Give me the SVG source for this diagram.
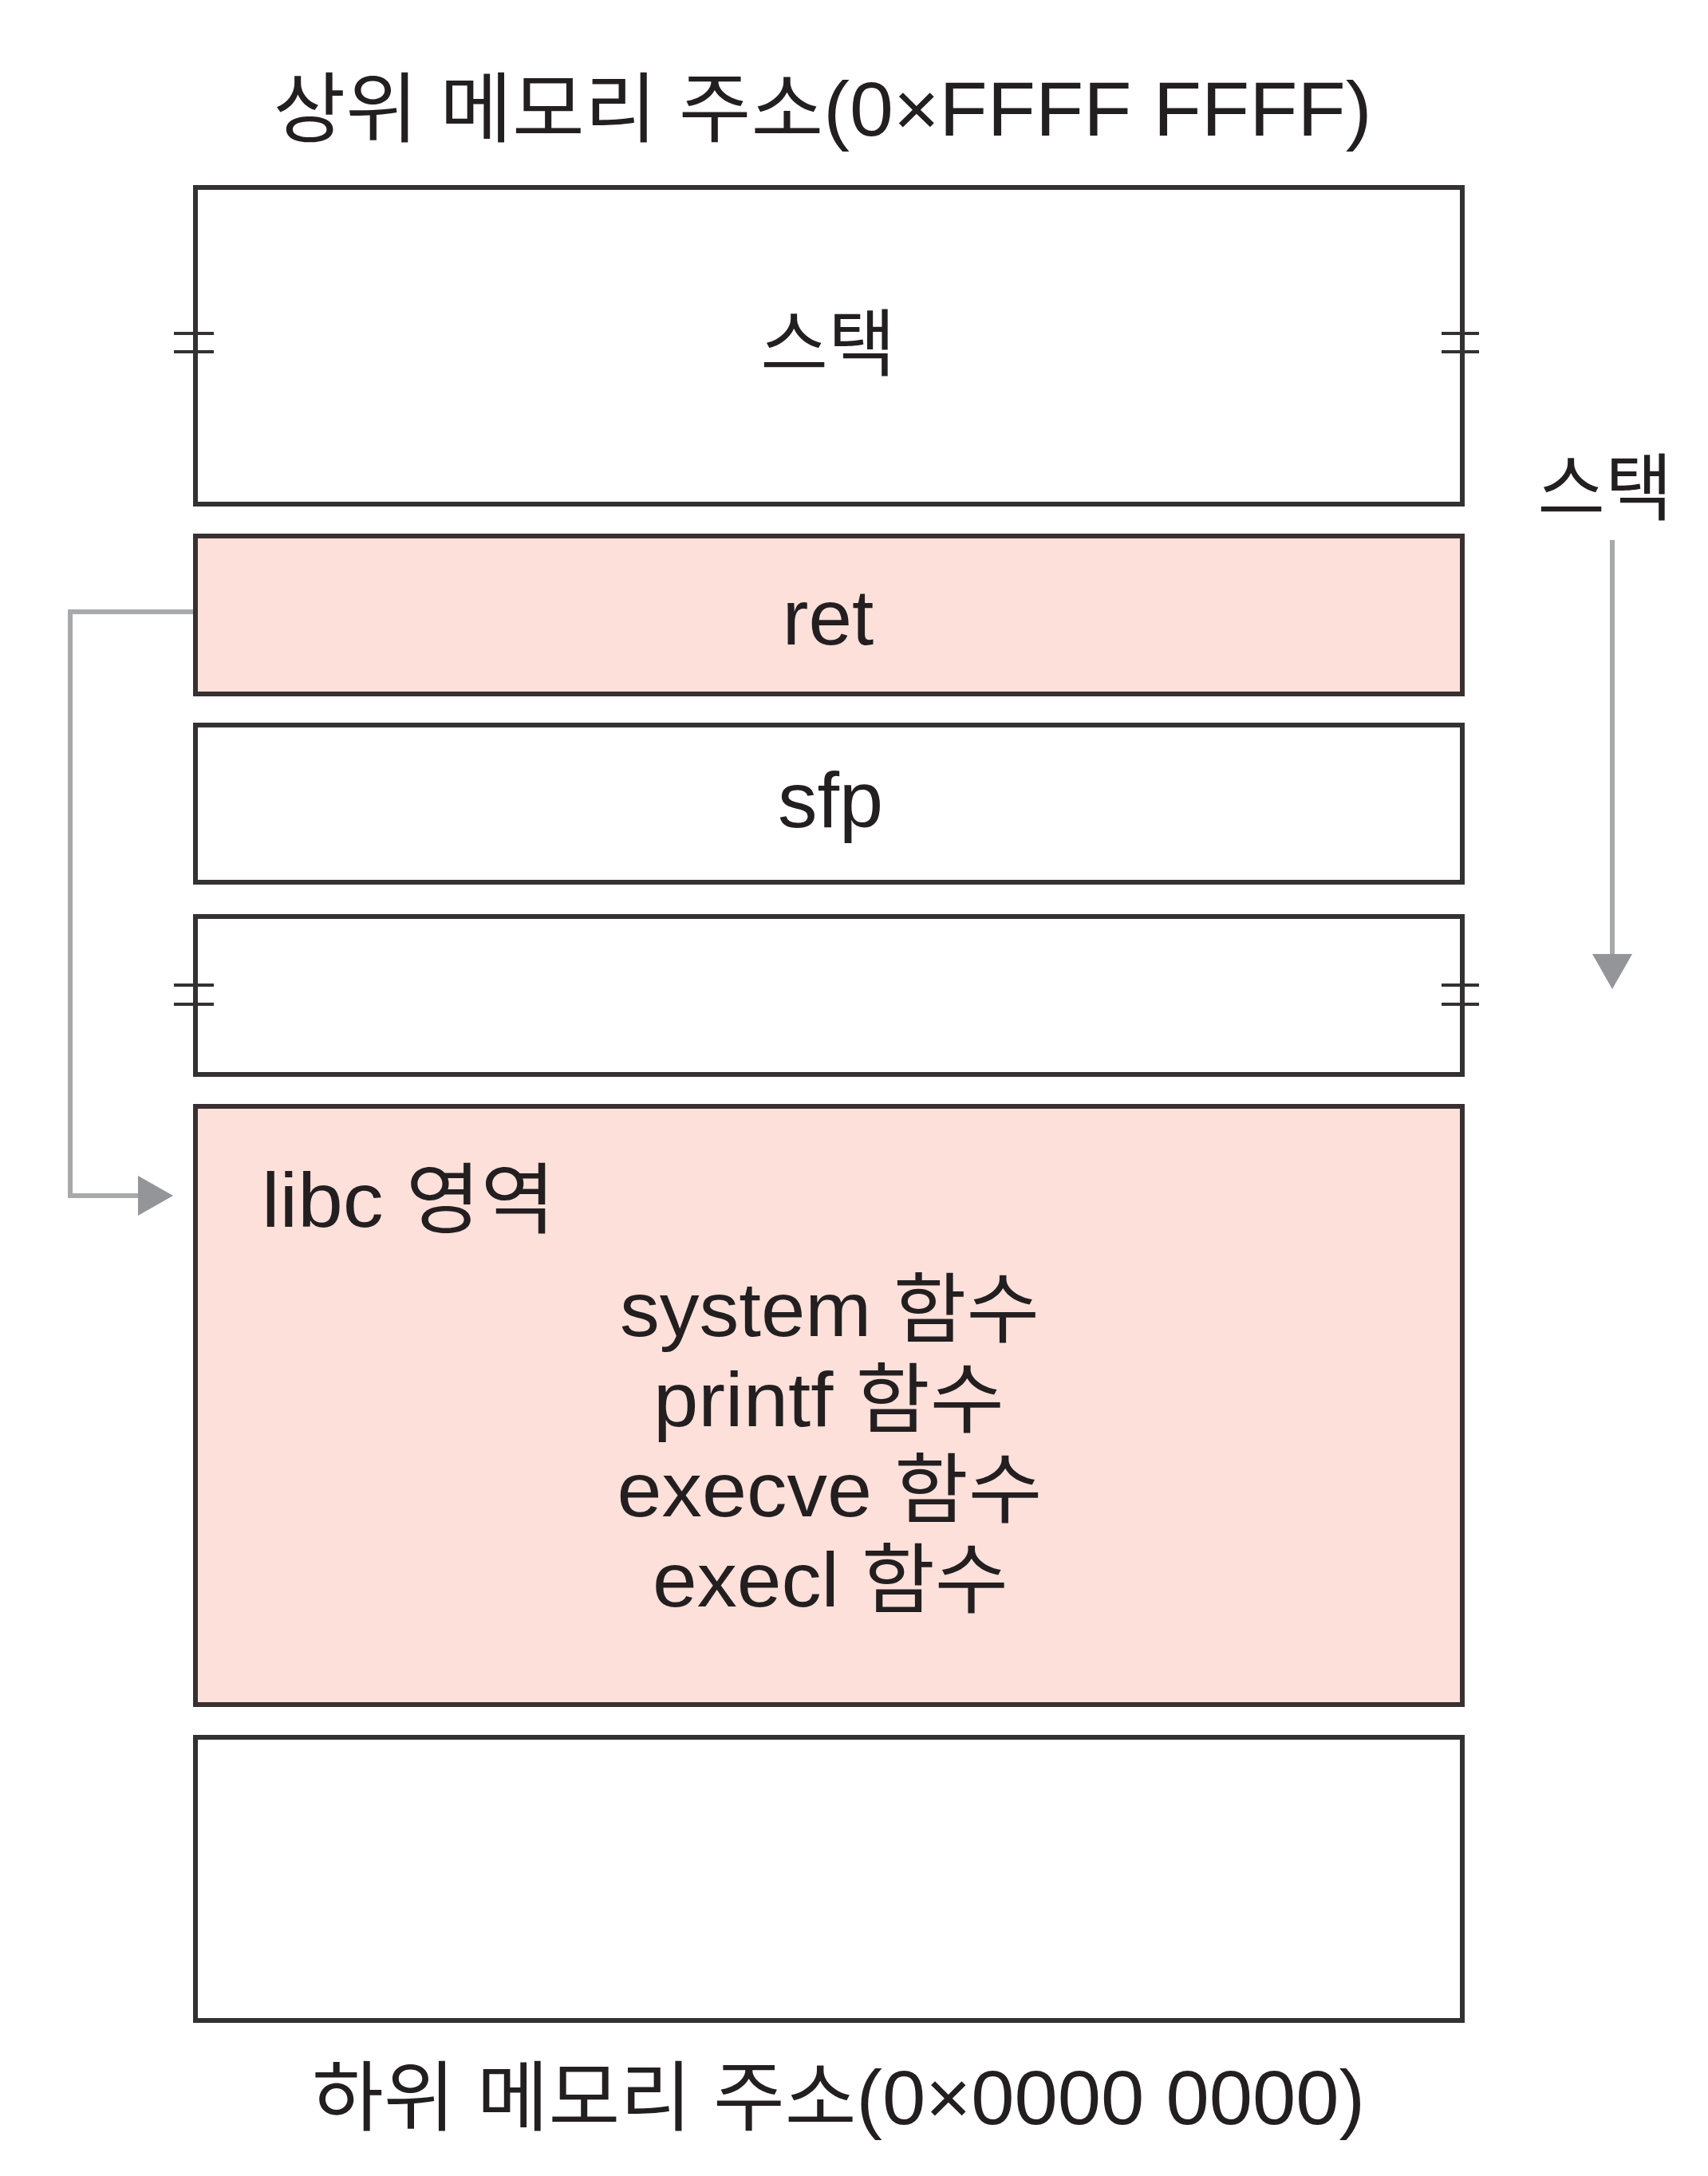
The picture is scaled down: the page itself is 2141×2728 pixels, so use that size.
<svg xmlns="http://www.w3.org/2000/svg" width="2141" height="2728" viewBox="0 0 2141 2728">
  <style>
    .box { stroke: #333132; stroke-width: 6; fill: #ffffff; }
    .pink { fill: #fde0da; stroke: #3a3031; }
    .tick { stroke: #333132; stroke-width: 4; fill: none; }
    .txt { font-family: "Liberation Sans", "Noto Sans CJK KR", sans-serif; fill: #231f20; }
    .kr { font-family: "Noto Sans CJK KR", "Liberation Sans", sans-serif; fill: #231f20; }
    .conn { stroke: #a7a9ab; stroke-width: 6; fill: none; }
  </style>
  <defs>
    <marker id="ah" markerUnits="userSpaceOnUse" markerWidth="60" markerHeight="60" refX="0" refY="0" orient="auto" overflow="visible">
      <path d="M-2,-25 L42,0 L-2,25 z" fill="#939598"/>
    </marker>
  </defs>
  <rect width="2141" height="2728" fill="#ffffff"/>

  <g id="title-top">
    <text class="txt" x="1031" y="170" font-size="96" text-anchor="middle" textLength="1377" lengthAdjust="spacingAndGlyphs">상위 메모리 주소(0×FFFF FFFF)</text>
  </g>

  <g id="node-stack">
    <rect class="box" x="245" y="235" width="1588" height="397"/>
    <line class="tick" x1="218" y1="418" x2="268" y2="418"/>
    <line class="tick" x1="218" y1="441" x2="268" y2="441"/>
    <line class="tick" x1="1807" y1="418" x2="1854" y2="418"/>
    <line class="tick" x1="1807" y1="441" x2="1854" y2="441"/>
    <text class="kr" x="1038" y="464" font-size="92" text-anchor="middle">스택</text>
  </g>

  <g id="node-ret">
    <rect class="box pink" x="245" y="672" width="1588" height="198"/>
    <text class="txt" x="1038" y="808" font-size="98" text-anchor="middle">ret</text>
  </g>

  <g id="node-sfp">
    <rect class="box" x="245" y="909" width="1588" height="197"/>
    <text class="txt" x="1041" y="1037" font-size="99" text-anchor="middle">sfp</text>
  </g>

  <g id="node-empty">
    <rect class="box" x="245" y="1149" width="1588" height="198"/>
    <line class="tick" x1="218" y1="1235" x2="268" y2="1235"/>
    <line class="tick" x1="218" y1="1259" x2="268" y2="1259"/>
    <line class="tick" x1="1807" y1="1235" x2="1854" y2="1235"/>
    <line class="tick" x1="1807" y1="1259" x2="1854" y2="1259"/>
  </g>

  <g id="node-libc">
    <rect class="box pink" x="245" y="1387" width="1588" height="750"/>
    <text class="txt" x="328" y="1538" font-size="97" textLength="368" lengthAdjust="spacingAndGlyphs">libc 영역</text>
    <text class="txt" x="1040" y="1675" font-size="96" text-anchor="middle" textLength="526" lengthAdjust="spacingAndGlyphs">system 함수</text>
    <text class="txt" x="1039" y="1788" font-size="96" text-anchor="middle" textLength="440" lengthAdjust="spacingAndGlyphs">printf 함수</text>
    <text class="txt" x="1040" y="1901" font-size="96" text-anchor="middle" textLength="533" lengthAdjust="spacingAndGlyphs">execve 함수</text>
    <text class="txt" x="1041" y="2014" font-size="96" text-anchor="middle" textLength="446" lengthAdjust="spacingAndGlyphs">execl 함수</text>
  </g>

  <g id="node-bottom">
    <rect class="box" x="245" y="2178" width="1588" height="355"/>
  </g>

  <g id="title-bottom">
    <text class="txt" x="1051" y="2663" font-size="96" text-anchor="middle" textLength="1320" lengthAdjust="spacingAndGlyphs">하위 메모리 주소(0×0000 0000)</text>
  </g>

  <g id="label-stack-dir">
    <text class="kr" x="2012" y="645" font-size="92" text-anchor="middle">스택</text>
  </g>

  <g id="connectors">
    <path class="conn" d="M242,767 H88 V1499 H175" marker-end="url(#ah)"/>
    <path class="conn" d="M2021,677 V1198" marker-end="url(#ah)"/>
  </g>
</svg>
